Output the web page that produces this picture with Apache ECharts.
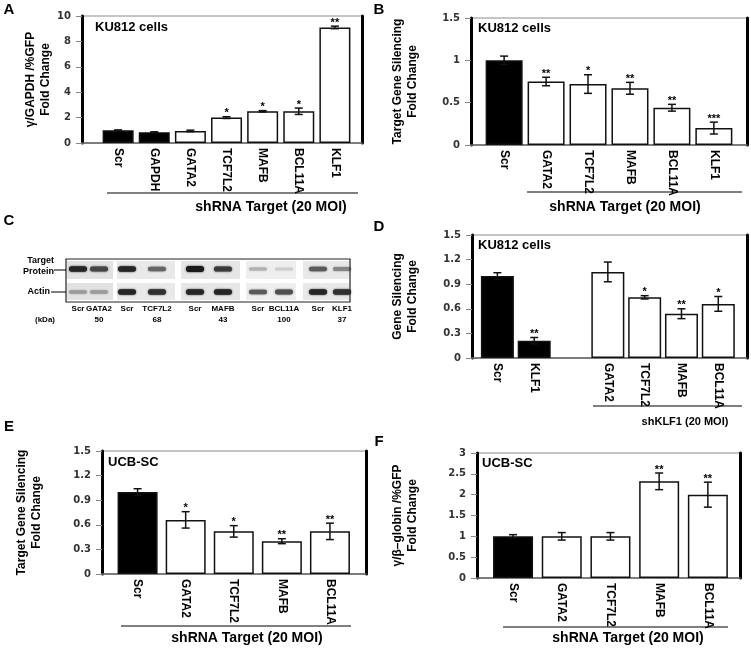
<!DOCTYPE html>
<html><head><meta charset="utf-8">
<script src="https://cdn.jsdelivr.net/npm/echarts@6/dist/echarts.min.js"></script>
<style>html,body{margin:0;padding:0;background:#fff}#c{width:751px;height:649px}</style>
</head><body><div id="c"></div><script>
// ---------- DATA ----------
// Panel A
const A_categories = ['Scr','GAPDH','GATA2','TCF7L2','MAFB','BCL11A','KLF1'];
const A_values = [1.0, 0.85, 0.95, 2.0, 2.5, 2.5, 9.1];
const A_errors = [0.03, 0.03, 0.06, 0.07, 0.05, 0.25, 0.1];
const A_stars = ['', '', '', '*', '*', '*', '**'];
const A_black = [1, 1, 0, 0, 0, 0, 0];
const A_yTicks = [0, 2, 4, 6, 8, 10];
// Panel B
const B_categories = ['Scr','GATA2','TCF7L2','MAFB','BCL11A','KLF1'];
const B_values = [1.0, 0.75, 0.72, 0.67, 0.44, 0.2];
const B_errors = [0.05, 0.05, 0.11, 0.07, 0.04, 0.07];
const B_stars = ['', '**', '*', '**', '**', '***'];
const B_black = [1, 0, 0, 0, 0, 0];
const B_yTicks = [0, 0.5, 1, 1.5];
// Panel C (western blot)
const C_lanes = ['Scr','GATA2','Scr','TCF7L2','Scr','MAFB','Scr','BCL11A','Scr','KLF1'];
const C_kDa = ['', '50', '', '68', '', '43', '', '100', '', '37'];
const C_targetIntensity = [0.9, 0.75, 0.9, 0.6, 0.95, 0.8, 0.25, 0.12, 0.65, 0.45];
const C_actinIntensity = [0.35, 0.35, 0.9, 0.85, 0.9, 0.9, 0.65, 0.7, 0.9, 0.85];
// Panel D
const D_categories = ['Scr','KLF1','','GATA2','TCF7L2','MAFB','BCL11A'];
const D_values = [1.0, 0.21, null, 1.05, 0.74, 0.54, 0.66];
const D_errors = [0.04, 0.04, null, 0.12, 0.02, 0.06, 0.09];
const D_stars = ['', '**', '', '', '*', '**', '*'];
const D_black = [1, 1, 0, 0, 0, 0, 0];
const D_yTicks = [0, 0.3, 0.6, 0.9, 1.2, 1.5];
// Panel E
const E_categories = ['Scr','GATA2','TCF7L2','MAFB','BCL11A'];
const E_values = [1.0, 0.66, 0.52, 0.4, 0.52];
const E_errors = [0.04, 0.1, 0.07, 0.03, 0.1];
const E_stars = ['', '*', '*', '**', '**'];
const E_black = [1, 0, 0, 0, 0];
const E_yTicks = [0, 0.3, 0.6, 0.9, 1.2, 1.5];
// Panel F
const F_categories = ['Scr','GATA2','TCF7L2','MAFB','BCL11A'];
const F_values = [1.0, 1.0, 1.0, 2.32, 2.0];
const F_errors = [0.04, 0.09, 0.09, 0.2, 0.3];
const F_stars = ['', '', '', '**', '**'];
const F_black = [1, 0, 0, 0, 0];
const F_yTicks = [0, 0.5, 1, 1.5, 2, 2.5, 3];

// ---------- LAYOUT ----------
const FONT = '"Liberation Sans", Arial, sans-serif';
const panels = [
  {cats:A_categories, vals:A_values, errs:A_errors, stars:A_stars, black:A_black, ticks:A_yTicks,
   left:82, top:16, width:280, height:127, xmin:-1.0, xmax:6.75, ymax:10, barW:31,
   yname:'γ/GAPDH /%GFP\nFold Change', nameGap:27},
  {cats:B_categories, vals:B_values, errs:B_errors, stars:B_stars, black:B_black, ticks:B_yTicks,
   left:471, top:18, width:276, height:127, xmin:-0.79, xmax:5.79, ymax:1.5, barW:37,
   yname:'Target Gene Silencing\nFold Change', nameGap:51},
  {cats:D_categories, vals:D_values, errs:D_errors, stars:D_stars, black:D_black, ticks:D_yTicks,
   left:472, top:235, width:275, height:123, xmin:-0.69, xmax:6.78, ymax:1.5, barW:33,
   yname:'Gene Silencing\nFold Change', nameGap:52},
  {cats:E_categories, vals:E_values, errs:E_errors, stars:E_stars, black:E_black, ticks:E_yTicks,
   left:102, top:451, width:264, height:123, xmin:-0.74, xmax:4.75, ymax:1.5, barW:40,
   yname:'Target Gene Silencing\nFold Change', nameGap:58},
  {cats:F_categories, vals:F_values, errs:F_errors, stars:F_stars, black:F_black, ticks:F_yTicks,
   left:477, top:453, width:263, height:125, xmin:-0.74, xmax:4.66, ymax:3, barW:40,
   yname:'γ/β–globin /%GFP\nFold Change', nameGap:57}
];

const grid = [], xAxis = [], yAxis = [], series = [];
panels.forEach((p, k) => {
  grid.push({left:p.left, top:p.top, width:p.width, height:p.height, show:true,
             borderColor:'#8a8a8a', borderWidth:1, backgroundColor:'transparent'});
  const idx = p.cats.map((c,i)=>c ? i : null).filter(v=>v!==null);
  xAxis.push({type:'value', gridIndex:k, min:p.xmin, max:p.xmax,
    axisLine:{show:true, onZero:false, lineStyle:{color:'#666', width:1.5}},
    axisTick:{show:false}, splitLine:{show:false},
    axisLabel:{customValues:idx, rotate:-90, margin:5, color:'#000',
      fontFamily:FONT, fontWeight:'bold', fontSize:12,
      formatter:v => (Number.isInteger(v) && p.cats[v]) ? p.cats[v] : ''}});
  const step = p.ticks[1] - p.ticks[0];
  yAxis.push({type:'value', gridIndex:k, min:0, max:p.ymax, interval:step,
    name:p.yname, nameLocation:'middle', nameRotate:90, nameGap:p.nameGap,
    nameTextStyle:{fontFamily:FONT, fontWeight:'bold', fontSize:12, lineHeight:15, color:'#000'},
    axisLine:{show:true, onZero:false, lineStyle:{color:'#000', width:3}},
    axisTick:{show:true, length:6, customValues:p.ticks, lineStyle:{color:'#888', width:1}},
    splitLine:{show:false},
    axisLabel:{customValues:p.ticks, margin:11, color:'#333', fontFamily:'"DejaVu Sans", sans-serif',
      fontWeight:'bold', fontSize:10}});
  yAxis.push({type:'value', gridIndex:k, position:'right', min:0, max:p.ymax, interval:step,
    axisLine:{show:true, onZero:false, lineStyle:{color:'#000', width:3}},
    axisTick:{show:false}, axisLabel:{show:false}, splitLine:{show:false}});
  const barData = [];
  p.vals.forEach((v,i) => { if (v !== null) barData.push({value:[i, v],
    itemStyle:{color: p.black[i] ? '#000' : '#fff', borderColor:'#111', borderWidth:1.5}}); });
  series.push({type:'bar', xAxisIndex:k, yAxisIndex:2*k, barWidth:p.barW, data:barData,
    silent:true, animation:false});
  const errData = [];
  p.vals.forEach((v,i) => { if (v !== null) errData.push([i, v, p.errs[i], i]); });
  series.push({type:'custom', xAxisIndex:k, yAxisIndex:2*k, z:10, animation:false, silent:true,
    data:errData,
    renderItem:(params, api) => {
      const x = api.value(0), v = api.value(1), e = api.value(2), i = api.value(3);
      const top = api.coord([x, v + e]), bot = api.coord([x, v - e]);
      const children = [];
      if (e > 0) {
        children.push({type:'line', shape:{x1:top[0], y1:top[1], x2:bot[0], y2:bot[1]}, style:{stroke:'#111', lineWidth:1.5}});
        children.push({type:'line', shape:{x1:top[0]-4, y1:top[1], x2:top[0]+4, y2:top[1]}, style:{stroke:'#111', lineWidth:1.5}});
        children.push({type:'line', shape:{x1:bot[0]-4, y1:bot[1], x2:bot[0]+4, y2:bot[1]}, style:{stroke:'#111', lineWidth:1.5}});
      }
      const s = p.stars[i];
      if (s) children.push({type:'text', x:top[0], y:top[1] + 2,
        style:{text:s, align:'center', verticalAlign:'bottom', font:'bold 11px ' + FONT, fill:'#000'}});
      return {type:'group', children};
    }});
});

// ---------- GRAPHIC (letters, annotations, blot) ----------
const g = [];
function txt(x, y, text, size, align) {
  g.push({type:'text', x, y, silent:true,
    style:{text, font:'bold ' + size + 'px ' + FONT, fill:'#000', align:align || 'center', verticalAlign:'middle'}});
}
function line(x1, y1, x2, y2, color, w) {
  g.push({type:'line', silent:true, shape:{x1, y1, x2, y2}, style:{stroke:color || '#555', lineWidth:w || 1.5}});
}
[['A',9,10],['B',379,10],['C',9,221],['D',379,227],['E',9,427],['F',379,442]].forEach(l => txt(l[1], l[2], l[0], 15));
txt(95, 27, 'KU812 cells', 13, 'left');
txt(478, 28, 'KU812 cells', 13, 'left');
txt(478, 245, 'KU812 cells', 13, 'left');
txt(108, 462, 'UCB-SC', 13, 'left');
txt(482, 463, 'UCB-SC', 13, 'left');
line(107, 193, 358, 193); txt(271, 207, 'shRNA Target (20 MOI)', 14);
line(527, 192, 742, 192); txt(625, 207, 'shRNA Target (20 MOI)', 14);
line(593, 406, 742, 406); txt(685, 422, 'shKLF1 (20 MOI)', 11);
line(121, 626, 351, 626); txt(247, 638, 'shRNA Target (20 MOI)', 14);
line(503, 627, 728, 627); txt(628, 638, 'shRNA Target (20 MOI)', 14);

// Blot
const blot = {x:66, y:259, w:284, h:43, row1:[261, 279], row2:[283, 300]};
const groups = [[67,113],[117,175],[181,240],[246,296],[303,349]];
const groupShade = ['#e2e2e2','#e9e9e9','#e6e6e6','#eeeeee','#e8e8e8'];
const laneX = [78, 99, 127, 157, 195, 223, 258, 284, 318, 342];
groups.forEach((gr, i) => {
  [blot.row1, blot.row2].forEach(r => g.push({type:'rect', silent:true,
    shape:{x:gr[0], y:r[0], width:gr[1]-gr[0], height:r[1]-r[0]}, style:{fill:groupShade[i]}}));
});
function band(cx, cy, intensity) {
  const lv = Math.round(230 - 215 * intensity);
  const col = 'rgb(' + lv + ',' + lv + ',' + lv + ')';
  const h = 2 + 4 * intensity;
  g.push({type:'rect', silent:true, shape:{x:cx-9, y:cy-h/2, width:18, height:h, r:h/2},
    style:{fill:col, shadowBlur:2, shadowColor:col}});
}
C_lanes.forEach((name, i) => {
  band(laneX[i], 269, C_targetIntensity[i]);
  band(laneX[i], 292, C_actinIntensity[i]);
  txt(laneX[i], 309, name, 8);
  if (C_kDa[i]) txt(laneX[i], 320, C_kDa[i], 8);
});
g.push({type:'rect', silent:true, shape:{x:blot.x, y:blot.y, width:blot.w, height:blot.h},
  style:{fill:'none', stroke:'#222', lineWidth:1.2}});
g.push({type:'text', x:54, y:266, silent:true, style:{text:'Target\nProtein', font:'bold 9px ' + FONT, lineHeight:11, fill:'#000', align:'right', verticalAlign:'middle'}});
line(54, 270, 66, 270, '#000', 1);
g.push({type:'text', x:50, y:292, silent:true, style:{text:'Actin', font:'bold 9px ' + FONT, fill:'#000', align:'right', verticalAlign:'middle'}});
line(51, 292, 66, 292, '#000', 1);
txt(45, 320, '(kDa)', 8);

const chart = echarts.init(document.getElementById('c'), null, {renderer:'canvas'});
chart.setOption({backgroundColor:'#fff', animation:false, grid, xAxis, yAxis, series, graphic:g});
</script></body></html>
